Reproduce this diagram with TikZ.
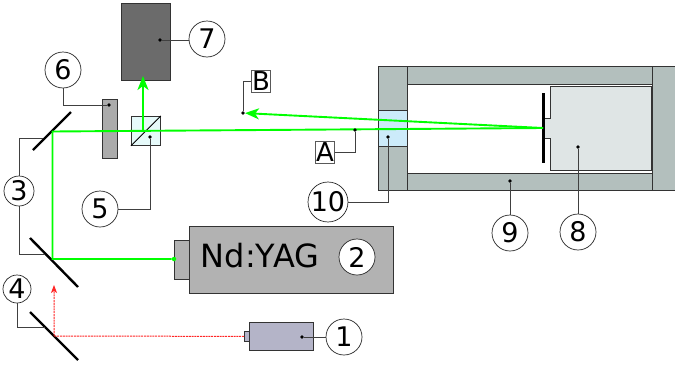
\documentclass[tikz,border=0pt]{standalone}
\usepackage{fontspec}
\setmainfont{DejaVu Sans}
\usetikzlibrary{arrows.meta,positioning,calc}

\definecolor{chamberfill}{HTML}{B3BFBD}
\definecolor{windowfill}{HTML}{CCEBFA}
\definecolor{holderfill}{HTML}{DFE5E5}
\definecolor{cubefill}{HTML}{E6FAFA}
\definecolor{diodefill}{HTML}{B4B4C8}

\tikzset{
    part/.style={draw=black!80, line width=0.8pt, inner sep=0pt, anchor=north west},
    num/.style={circle, draw=black!85, fill=white, line width=0.7pt, inner sep=0pt, minimum size=36pt, font=\fontsize{27}{27}\selectfont},
    tag/.style={draw=black!65, fill=white, line width=0.8pt, inner sep=0pt, minimum width=19pt, minimum height=22pt, font=\fontsize{26}{26}\selectfont},
    pin/.style={circle, fill=black, inner sep=0pt, minimum size=3.6pt},
    lead/.style={draw=black!75, line width=0.8pt},
    mirror/.style={line width=2.4pt, black},
    beam/.style={draw=green, line width=1.9pt},
    beamtip/.style={-{Stealth[length=14pt,width=11pt,inset=4pt]}},
    redbeam/.style={draw=red!85, dash pattern=on 2pt off 0.8pt, line width=1pt, -{Stealth[length=8pt,width=6pt,inset=2pt]}}
}

\begin{document}
\begin{tikzpicture}[x=1pt,y=-1pt]
    \useasboundingbox (0,0) rectangle (675,367);

    % chamber
    \node [part, fill=chamberfill, minimum width=297pt, minimum height=124pt] (chamber) at (378,66) {};
    \node [part, fill=chamberfill, minimum width=29pt, minimum height=124pt] (flangeL) at (378,66) {};
    \node [part, fill=chamberfill, minimum width=23pt, minimum height=124pt] (flangeR) at (652,66) {};
    \node [part, fill=white, minimum width=245pt, minimum height=89pt] (bore) at (407,83.5) {};
    \node [part, fill=windowfill, minimum width=29pt, minimum height=36pt] (window) at (378,110) {};

    % target holder
    \filldraw [draw=black!80, line width=0.8pt, fill=holderfill] (651,86) -- (550,86) -- (550,118) -- (544,118) -- (544,138) -- (550,138) -- (550,170) -- (651,170) -- cycle;
    \coordinate (plateT) at (543.5,93);
    \coordinate (plateB) at (543.5,163);
    \draw [line width=2.6pt] (plateT) -- (plateB);

    % other parts
    \node [part, fill=black!58, minimum width=49pt, minimum height=77pt] (camera) at (121,3) {};
    \node [part, fill=black!33, minimum width=15pt, minimum height=59pt] (filter) at (102,99) {};
    \node [part, fill=cubefill, minimum width=29pt, minimum height=29pt] (cube) at (131,116) {};
    \draw [line width=0.8pt] (cube.south west) -- (cube.north east);
    \node [part, fill=black!30, minimum width=204pt, minimum height=67pt] (yag) at (189,226) {};
    \node [part, fill=black!30, minimum width=15pt, minimum height=39pt] (yagout) at (174,240) {};
    \node [part, fill=diodefill, minimum width=64pt, minimum height=28pt] (diode) at (249,322) {};
    \node [part, fill=diodefill, minimum width=5pt, minimum height=10pt] (diodeout) at (244,331) {};
    \node [font=\fontsize{32}{32}\selectfont] (yagtext) at (260,256) {Nd:YAG};

    % mirrors
    \coordinate (m3a) at (33,150);
    \coordinate (m3b) at (71,112);
    \coordinate (m3c) at (30,238);
    \coordinate (m3d) at (78,287);
    \coordinate (m4a) at (30,312);
    \coordinate (m4b) at (78,360);
    \draw [mirror] (m3a) -- (m3b);
    \draw [mirror] (m3c) -- (m3d);
    \draw [mirror] (m4a) -- (m4b);

    % beams
    \coordinate (spot) at (543,128);
    \coordinate (bend1) at (52.5,259);
    \coordinate (bend2) at (52.5,131.5);
    \coordinate (split) at (143,131);
    \coordinate (top) at (143,76);
    \coordinate (red1) at (54,336);
    \coordinate (red2) at (54,285);
    \node [circle, fill=green, inner sep=0pt, minimum size=4.5pt] (yagdot) at (174,259) {};
    \draw [beam] (yagdot) -- (bend1) -- (bend2) -- (spot);
    \draw [beam,beamtip] (split) -- (top);
    \draw [redbeam] (diodeout.west) -- (red1) -- (red2);

    % numbers
    \node [num] (n1) at (344,337) {1};
    \node [num] (n2) at (357,257) {2};
    \node [num, minimum size=30pt] (n3) at (19,191) {3};
    \node [num, minimum size=28pt] (n4) at (17,289) {4};
    \node [num] (n5) at (100,209) {5};
    \node [num] (n6) at (63,70) {6};
    \node [num] (n7) at (207,39) {7};
    \node [num] (n8) at (578,232) {8};
    \node [num] (n9) at (510,233) {9};
    \node [num] (n10) at (328,202) {10};
    \node [tag] (tagA) at (325,152) {A};
    \node [tag] (tagB) at (261,81) {B};

    % leaders
    \node [pin] (p1) at (302,337) {};
    \node [pin] (p5) at (150,137) {};
    \node [pin] (p6) at (109,105) {};
    \node [pin] (p7) at (160,40) {};
    \node [pin] (p8) at (578,147) {};
    \node [pin] (p9) at (510,181) {};
    \node [pin] (p10) at (388,137) {};
    \node [pin] (pA) at (355,130) {};
    \node [pin] (pB) at (243,113) {};
    \coordinate (p3a) at (43,138);
    \coordinate (p3b) at (45,254);
    \coordinate (p4) at (45,327);

    \draw [beam,beamtip] (spot) -- (pB);

    \draw [lead] (p1) -- (n1);
    \draw [lead] (p5) |- (n5);
    \draw [lead] (p6) -| (n6);
    \draw [lead] (p7) -- (p7 -| n7.west);
    \draw [lead] (p8) -- (n8);
    \draw [lead] (p9) -- (n9);
    \draw [lead] (p10) |- (n10);
    \draw [lead] (pA) |- (tagA);
    \draw [lead] (pB) |- (tagB);
    \draw [lead] (p3a) -| (n3);
    \draw [lead] (p3b) -| (n3);
    \draw [lead] (p4) -| (n4);
\end{tikzpicture}
\end{document}
